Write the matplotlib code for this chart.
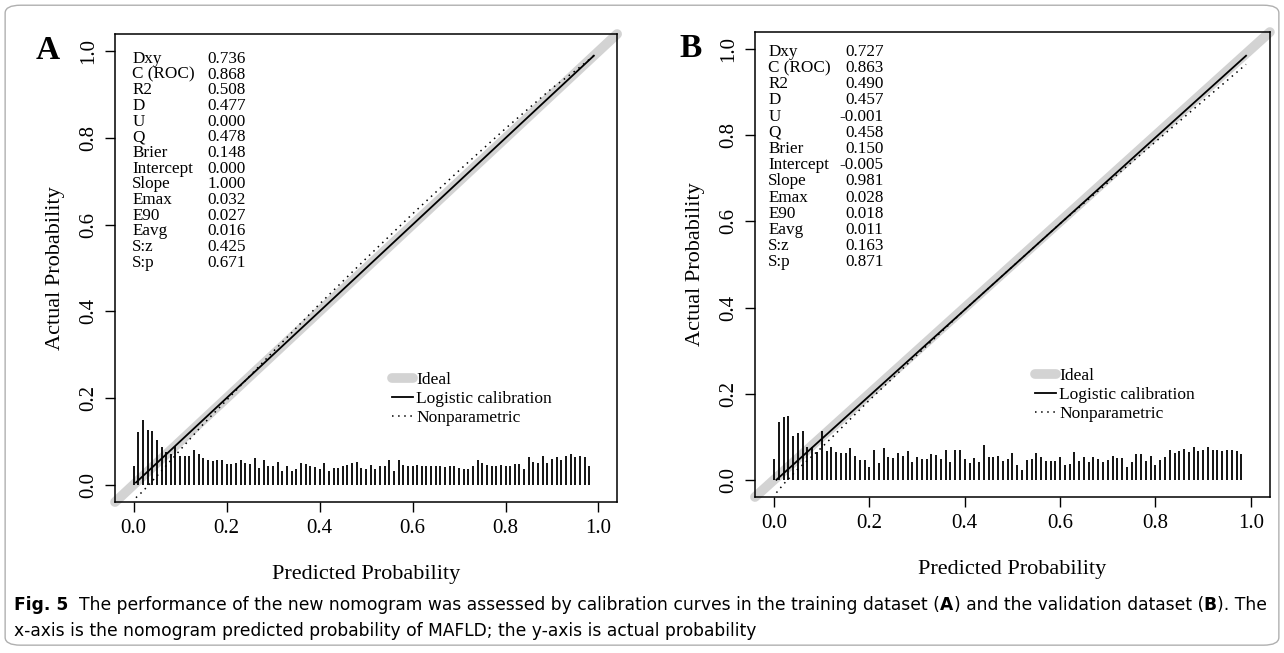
import matplotlib.pyplot as plt
import numpy as np
from matplotlib.patches import FancyBboxPatch

# statistics printed in the upper-left corner of each panel
stat_names = ['Dxy', 'C (ROC)', 'R2', 'D', 'U', 'Q', 'Brier', 'Intercept',
              'Slope', 'Emax', 'E90', 'Eavg', 'S:z', 'S:p']
stats_train = ['0.736', '0.868', '0.508', '0.477', '0.000', '0.478', '0.148',
               '0.000', '1.000', '0.032', '0.027', '0.016', '0.425', '0.671']
stats_valid = ['0.727', '0.863', '0.490', '0.457', '-0.001', '0.458', '0.150',
               '-0.005', '0.981', '0.028', '0.018', '0.011', '0.163', '0.871']

# spike histogram of predicted probabilities (bins of 0.01 starting at 0)
spikes_train = [0.044, 0.121, 0.150, 0.127, 0.125, 0.103, 0.086, 0.075, 0.071, 0.090,
                0.066, 0.067, 0.067, 0.080, 0.071, 0.062, 0.056, 0.054, 0.056, 0.057,
                0.048, 0.048, 0.050, 0.056, 0.050, 0.048, 0.062, 0.038, 0.056, 0.043,
                0.043, 0.053, 0.032, 0.042, 0.032, 0.036, 0.049, 0.048, 0.043, 0.040,
                0.036, 0.049, 0.031, 0.038, 0.038, 0.044, 0.046, 0.049, 0.053, 0.038,
                0.036, 0.046, 0.036, 0.044, 0.042, 0.056, 0.032, 0.056, 0.046, 0.044,
                0.044, 0.046, 0.044, 0.043, 0.042, 0.042, 0.042, 0.040, 0.042, 0.042,
                0.039, 0.036, 0.036, 0.044, 0.056, 0.050, 0.046, 0.042, 0.042, 0.046,
                0.042, 0.044, 0.048, 0.048, 0.036, 0.063, 0.052, 0.049, 0.067, 0.051,
                0.059, 0.063, 0.057, 0.066, 0.071, 0.065, 0.067, 0.065, 0.044]
spikes_valid = [0.049, 0.135, 0.145, 0.148, 0.101, 0.109, 0.114, 0.075, 0.077, 0.064,
                0.114, 0.068, 0.077, 0.064, 0.062, 0.062, 0.073, 0.056, 0.047, 0.047,
                0.029, 0.070, 0.039, 0.073, 0.054, 0.051, 0.062, 0.056, 0.067, 0.041,
                0.052, 0.049, 0.049, 0.059, 0.058, 0.049, 0.070, 0.041, 0.070, 0.070,
                0.049, 0.039, 0.051, 0.041, 0.080, 0.054, 0.052, 0.056, 0.044, 0.049,
                0.062, 0.035, 0.023, 0.047, 0.049, 0.063, 0.052, 0.044, 0.044, 0.044,
                0.053, 0.035, 0.036, 0.064, 0.043, 0.054, 0.041, 0.053, 0.049, 0.041,
                0.045, 0.056, 0.050, 0.051, 0.030, 0.041, 0.059, 0.059, 0.044, 0.055,
                0.034, 0.047, 0.052, 0.070, 0.062, 0.066, 0.071, 0.064, 0.075, 0.067,
                0.070, 0.075, 0.070, 0.070, 0.068, 0.070, 0.069, 0.067, 0.060]
spike_step = 0.01

# logistic calibration line (end points)
logit_train_x = [0.005, 0.99]
logit_train_y = [0.005, 0.99]
logit_valid_x = [0.005, 0.99]
logit_valid_y = [0.000, 0.985]

# nonparametric (loess) calibration curve
np_train_x = [0.005, 0.02, 0.05, 0.10, 0.15, 0.20, 0.30, 0.40, 0.50, 0.60, 0.70, 0.80, 0.90, 0.95, 0.99]
np_train_y = [-0.03, -0.015, 0.02, 0.08, 0.14, 0.195, 0.307, 0.417, 0.522, 0.625, 0.725, 0.822, 0.915, 0.955, 0.99]
np_valid_x = [0.005, 0.02, 0.05, 0.10, 0.15, 0.20, 0.30, 0.40, 0.50, 0.60, 0.70, 0.80, 0.90, 0.99]
np_valid_y = [-0.03, -0.01, 0.025, 0.075, 0.13, 0.185, 0.29, 0.395, 0.495, 0.595, 0.69, 0.785, 0.88, 0.965]

ticks = [0.0, 0.2, 0.4, 0.6, 0.8, 1.0]
lim = (-0.04, 1.04)

serif = ['Liberation Serif', 'DejaVu Serif']
sans = ['DejaVu Sans']

fig = plt.figure(figsize=(12.84, 6.53), dpi=100)

# rounded frame around the whole figure
fig.patches.append(FancyBboxPatch((0.004, 0.012), 0.992, 0.98,
                                  boxstyle='round,pad=0,rounding_size=0.012',
                                  transform=fig.transFigure, fill=False,
                                  edgecolor='#b0b0b0', linewidth=1.0))


def draw_panel(rect, letter, letter_x, stats, spikes, lx, ly, nx, ny,
               name_x, val_x, y_top, y_step, leg_anchor):
    ax = fig.add_axes(rect)
    ax.set_xlim(lim)
    ax.set_ylim(lim)

    # ideal line
    ax.plot(lim, lim, color='#d3d3d3', lw=7, solid_capstyle='round',
            clip_on=False, label='Ideal', zorder=1)
    ax.plot(lx, ly, color='black', lw=1.3, label='Logistic calibration', zorder=3)
    ax.plot(nx, ny, color='black', lw=1.1, linestyle=(0, (1, 3)),
            label='Nonparametric', zorder=3)

    xs = np.arange(len(spikes)) * spike_step
    ax.vlines(xs, 0, spikes, color='black', lw=1.3, zorder=2)

    ax.set_xticks(ticks)
    ax.set_yticks(ticks)
    ax.set_xticklabels([f'{t:.1f}' for t in ticks])
    ax.set_yticklabels([f'{t:.1f}' for t in ticks], rotation=90, va='center')
    ax.tick_params(direction='out', length=7, width=1, labelsize=15, pad=5)
    for lab in ax.get_xticklabels() + ax.get_yticklabels():
        lab.set_family(serif)
    for s in ax.spines.values():
        s.set_linewidth(1.1)

    ax.set_xlabel('Predicted Probability', family=serif, fontsize=16, labelpad=20)
    ax.set_ylabel('Actual Probability', family=serif, fontsize=16, labelpad=10)

    for i, (name, val) in enumerate(zip(stat_names, stats)):
        y = y_top - i * y_step
        ax.text(name_x, y, name, family=serif, fontsize=12.3, va='center', ha='left')
        ax.text(val_x, y, val, family=serif, fontsize=12.3, va='center', ha='right')

    leg = ax.legend(loc='upper left', bbox_to_anchor=leg_anchor, frameon=False,
                    prop={'family': serif, 'size': 12.5}, handlelength=1.2,
                    handletextpad=0.2, labelspacing=0.15, borderaxespad=0,
                    borderpad=0)
    leg.get_lines()[0].set_linewidth(7)
    leg.get_lines()[0].set_solid_capstyle('round')

    fig.text(letter_x, rect[1] + rect[3] - 0.025, letter, family=serif,
             fontsize=24, fontweight='bold', ha='left', va='center')
    return ax


draw_panel([0.0896, 0.2312, 0.391, 0.7167], 'A', 0.028, stats_train, spikes_train,
           logit_train_x, logit_train_y, np_train_x, np_train_y,
           -0.003, 0.241, 0.982, 0.0361, (0.552, 0.278))
draw_panel([0.588, 0.2389, 0.401, 0.712], 'B', 0.529, stats_valid, spikes_valid,
           logit_valid_x, logit_valid_y, np_valid_x, np_valid_y,
           -0.012, 0.230, 0.994, 0.0376, (0.544, 0.277))

# caption, drawn piece by piece so that bold parts can be mixed in
caption_1 = [('Fig. 5', 'bold'), ('  The performance of the new nomogram was assessed by calibration curves in the training dataset (', 'normal'),
             ('A', 'bold'), (') and the validation dataset (', 'normal'), ('B', 'bold'), ('). The', 'normal')]
caption_2 = [('x-axis is the nomogram predicted probability of MAFLD; the y-axis is actual probability', 'normal')]

fig.canvas.draw()
renderer = fig.canvas.get_renderer()


def line_width(parts, size):
    w = 0
    for txt, weight in parts:
        t = fig.text(0, 0, txt, family=sans, fontsize=size, fontweight=weight)
        w += t.get_window_extent(renderer=renderer).width
        t.remove()
    return w


def draw_line(parts, x0, y0, size):
    x = x0
    for txt, weight in parts:
        t = fig.text(x, y0, txt, family=sans, fontsize=size, fontweight=weight,
                     ha='left', va='center')
        bb = t.get_window_extent(renderer=renderer)
        x += bb.width / fig.bbox.width


# shrink the caption font so that the first line spans the figure width
cap_size = 13.5 * 1250 / line_width(caption_1, 13.5)
draw_line(caption_1, 0.011, 1 - 605 / 653, cap_size)
draw_line(caption_2, 0.011, 1 - 631 / 653, cap_size)

fig.savefig('out.png', dpi=100)
